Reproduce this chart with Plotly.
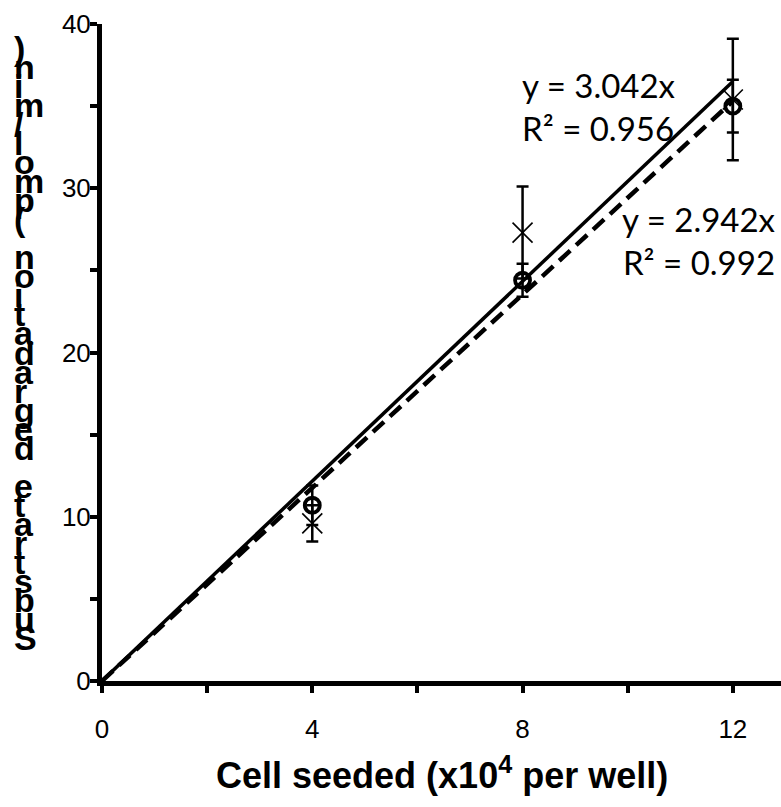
import plotly.graph_objects as go

# ---- data ----
cells = [4, 8, 12]
cross_mean = [9.6, 27.3, 35.4]
cross_err = [1.1, 2.8, 3.7]
circle_mean = [10.7, 24.4, 35.0]
circle_err = [1.2, 1.0, 1.6]
trend_x = [0, 12]
slope_cross = 3.042
slope_circle = 2.942
eq_cross = "y = 3.042x<br>R² = 0.956"
eq_circle = "y = 2.942x<br>R² = 0.992"
x_ticks = [0, 4, 8, 12]
y_ticks = [0, 10, 20, 30, 40]
x_title = "Cell seeded (x10<sup>4</sup> per well)"
y_title = "Substrate degradation (pmol/min)"

W, H = 781, 807
ML, MR, MT, MB = 102, 0, 24, 126
PW, PH = W - ML - MR, H - MT - MB

fig = go.Figure()

fig.add_trace(go.Scatter(
    x=trend_x, y=[slope_cross * v for v in trend_x], mode="lines",
    line=dict(color="black", width=3.5), showlegend=False, hoverinfo="skip"))
fig.add_trace(go.Scatter(
    x=trend_x, y=[slope_circle * v for v in trend_x], mode="lines",
    line=dict(color="black", width=4.5, dash="15px,8px"), showlegend=False, hoverinfo="skip"))

fig.add_trace(go.Scatter(
    x=cells, y=cross_mean, mode="markers",
    marker=dict(symbol="x-thin-open", size=20, color="black", line=dict(color="black", width=1.6)),
    error_y=dict(type="data", array=cross_err, visible=True, color="black", thickness=2.5, width=6),
    showlegend=False))
fig.add_trace(go.Scatter(
    x=cells, y=circle_mean, mode="markers",
    marker=dict(symbol="circle-open", size=15, color="black", line=dict(color="black", width=3.8)),
    error_y=dict(type="data", array=circle_err, visible=True, color="black", thickness=2.5, width=6),
    showlegend=False))

axis_common = dict(
    showgrid=False, zeroline=False, showline=True, linecolor="black", linewidth=5,
    ticks="outside", ticklen=7, tickwidth=4, tickcolor="black",
    tickfont=dict(family="Liberation Sans, Arial, sans-serif", size=26, color="black"),
)
fig.update_xaxes(range=[0, PW / 52.57], tickmode="array", tickvals=x_ticks,
                 ticktext=[str(v) for v in x_ticks], ticklabelstandoff=14,
                 minor=dict(dtick=2, tick0=0, ticks="outside", ticklen=7, tickwidth=4, tickcolor="black"),
                 **axis_common)
fig.update_yaxes(range=[0, 40], tickmode="array", tickvals=y_ticks,
                 ticktext=[str(v) for v in y_ticks], ticklabelstandoff=-6,
                 minor=dict(dtick=5, tick0=0, ticks="outside", ticklen=7, tickwidth=4, tickcolor="black"),
                 **axis_common)

def px_x(p):
    return (p - ML) / PW

def px_y(p):
    return (H - MB - p) / PH

eq_font = dict(family="Lato, Carlito, sans-serif", size=33, color="black")
annotations = []
annotations.append(dict(xref="paper", yref="paper", x=px_x(520), y=px_y(106), xanchor="left", yanchor="middle",
                        text=eq_cross, showarrow=False, align="left", font=eq_font))
annotations.append(dict(xref="paper", yref="paper", x=px_x(778), y=px_y(240), xanchor="right", yanchor="middle",
                        text=eq_circle, showarrow=False, align="right", font=eq_font))
annotations.append(dict(xref="paper", yref="paper", x=px_x(442), y=px_y(773), xanchor="center", yanchor="middle",
                        text=x_title, showarrow=False,
                        font=dict(family="Liberation Sans, Arial, sans-serif", size=36, color="black",
                                  weight="bold")))
# y title: characters stacked upright, reading bottom to top
chars = list(y_title)
top_c, bot_c = 48, 638
step = (bot_c - top_c) / (len(chars) - 1)
for i, ch in enumerate(chars):
    if ch == " ":
        continue
    py = bot_c - i * step
    annotations.append(dict(xref="paper", yref="paper", x=px_x(12), y=px_y(py), xanchor="left", yanchor="middle",
                            text=ch, showarrow=False,
                            font=dict(family="Liberation Sans, Arial, sans-serif", size=34, color="black",
                                      weight="bold")))

fig.update_layout(
    width=W, height=H, autosize=False,
    margin=dict(l=ML, r=MR, t=MT, b=MB, pad=0),
    paper_bgcolor="white", plot_bgcolor="white",
    annotations=annotations,
    font=dict(family="Liberation Sans, Arial, sans-serif", color="black"),
)

fig.write_html("out.html", config={"displayModeBar": False},
               post_script="document.body.style.margin='0';document.body.style.overflow='hidden';")
